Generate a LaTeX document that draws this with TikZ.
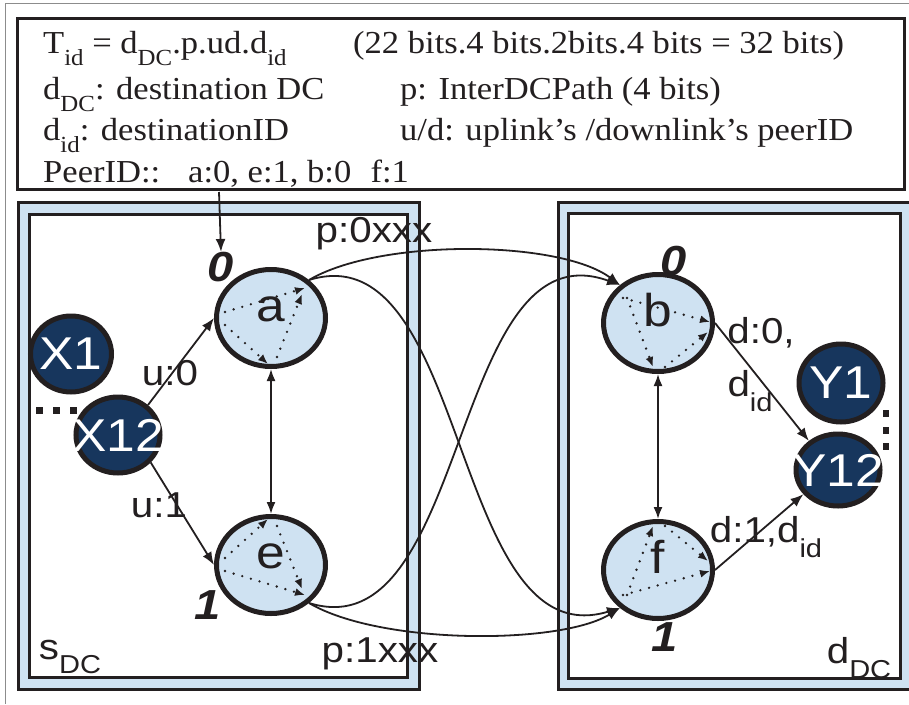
\documentclass[tikz,border=0pt]{standalone}
\usepackage{fontspec}
\usepackage{graphicx}
\usetikzlibrary{arrows.meta,shapes.geometric,calc}
\newfontfamily\hdrfont{Liberation Serif}[FakeStretch=1.08]
\newfontfamily\lblfont{Liberation Sans}[FakeStretch=1.12]
\definecolor{ink}{RGB}{35,31,32}
\definecolor{pale}{RGB}{207,226,242}
\definecolor{navy}{RGB}{23,54,93}
\definecolor{frame}{RGB}{140,140,140}
\newcommand{\lo}[1]{\raisebox{-0.4em}{\scalebox{0.72}{#1}}}
\newcommand{\fs}[1]{\fontsize{#1}{#1}\selectfont}

\begin{document}
\begin{tikzpicture}[x=1pt,y=-1pt,
  hdr/.style={font=\hdrfont\fs{32},text=ink,anchor=base west,inner sep=0pt},
  box/.style={draw=ink,line width=3pt,inner sep=0pt},
  peer/.style={ellipse,draw=ink,line width=5pt,fill=pale,minimum width=109pt,
               minimum height=97pt,inner sep=0pt,text height=0.72em,text depth=0pt,
               font=\lblfont\fs{46},text=ink},
  host/.style={ellipse,draw=ink,line width=5pt,fill=navy,inner sep=0pt,
               font=\lblfont\fs{46},text=white},
  lbl/.style={font=\lblfont\fs{36},text=ink,inner sep=0pt},
  idx/.style={font=\lblfont\bfseries\itshape\fs{42},text=ink,inner sep=0pt},
  arr/.style={-{Latex[length=13pt,width=10pt]},ink,line width=1.8pt},
  darr/.style={{Latex[length=12pt,width=9pt]}-{Latex[length=12pt,width=9pt]},ink,line width=1.8pt},
  dotarr/.style={-{Latex[length=10pt,width=8pt]},ink,line width=2.6pt,line cap=round,
                 dash pattern=on 0pt off 9pt},
]
\fill[white] (0,0) rectangle (909,704);
\useasboundingbox (0,0) rectangle (909,704);
\draw[frame,line width=1pt] (909,3) -- (5,3) -- (5,704);

% header with the id layout
\node[box,minimum width=887pt,minimum height=171pt] (hbox) at (461,104) {};
\node[hdr] (t1) at (43,53) {T\lo{id} = d\lo{DC}.p.ud.d\lo{id}};
\node[hdr] (t2) at (353,53) {(22 bits.4 bits.2bits.4 bits = 32 bits)};
\node[hdr] (t3) at (43,99) {d\lo{DC}: destination DC};
\node[hdr] (t4) at (400,99) {p: InterDCPath (4 bits)};
\node[hdr] (t5) at (43,140) {d\lo{id}: destinationID};
\node[hdr] (t6) at (400,140) {u/d: uplink’s /downlink’s peerID};
\node[hdr] (t7) at (43,182) {PeerID::};
\node[hdr] (t8) at (188,182) {a:0, e:1, b:0\hspace{0.6em}f:1};

% the two data centres
\node[box,fill=pale,minimum width=401pt,minimum height=487pt] (srcout) at (219,446) {};
\node[box,fill=white,minimum width=378pt,minimum height=463pt] (srcin) at (218.5,446) {};
\node[box,fill=pale,minimum width=356pt,minimum height=487pt] (dstout) at (736,446) {};
\node[box,fill=white,minimum width=332pt,minimum height=465pt] (dstin) at (734.5,446) {};

\foreach \i in {0,1,2} \fill[ink] ({36+\i*17},407) rectangle ++(7,7);
\foreach \i in {0,1,2} \fill[ink] (883,{410+\i*16.5}) rectangle ++(6,7);

\node[host,minimum width=81pt,minimum height=76pt] (x1) at (71,354) {\makebox[0pt]{X1}};
\node[host,minimum width=84pt,minimum height=76pt] (x12) at (118,435) {\makebox[0pt]{X12}};
\node[host,minimum width=84pt,minimum height=78pt] (y1) at (841,383) {\makebox[0pt]{Y1}};
\node[host,minimum width=84pt,minimum height=72pt] (y12) at (838,470) {\makebox[0pt]{Y12}};

\node[peer] (a) at (271,318) {a};
\node[peer] (e) at (271,565) {e};
\node[peer] (b) at (658,323) {b};
\node[peer] (f) at (658,570) {f};

% links
\coordinate (tap) at (219,192);
\node[idx] (za) at (221,267) {0};
\node[idx] (oe) at (208,605) {1};
\node[idx] (zb) at (674,261) {0};
\node[idx] (of) at (665,637) {1};
\draw[arr] (tap) -- (za.north);
\draw[arr] (x12.45) -- (a.west);
\draw[arr] (x12.-40) -- (e.west);
\draw[darr] (a.south) -- (e.north);
\draw[darr] (b.south) -- (f.north);
\draw[arr] (b.east) -- (y12.135);
\draw[arr] (f.east) -- (y12.215);

\draw[arr] (a.45) .. controls (380,238) and (560,240) .. (b.135);
\draw[arr] (a.45) .. controls (470,230) and (450,660) .. (f.225);
\draw[arr] (e.-45) .. controls (470,653) and (450,223) .. (b.135);
\draw[arr] (e.-45) .. controls (380,645) and (560,645) .. (f.225);

% forwarding inside the peers
\foreach \n/\s in {a/1,e/-1} {
  \draw[dotarr] ($(\n)+(-46,{-6*(\s)})$) -- ($(\n)+(34,{-30*(\s)})$);
  \draw[dotarr] ($(\n)+(-46,{7*(\s)})$) -- ($(\n)+(-3,{46*(\s)})$);
  \draw[dotarr] ($(\n)+(6,{39*(\s)})$) -- ($(\n)+(31,{-24*(\s)})$);
}
\foreach \n/\s in {b/1,f/-1} {
  \draw[dotarr] ($(\n)+(-35,{-25*(\s)})$) -- ($(\n)+(52,{-1*(\s)})$);
  \draw[dotarr] ($(\n)+(-31,{-25*(\s)})$) -- ($(\n)+(-5,{44*(\s)})$);
  \draw[dotarr] ($(\n)+(7,{44*(\s)})$) -- ($(\n)+(50,{9*(\s)})$);
}

\node[lbl] (p0) at (374,234) {p:0xxx};
\node[lbl] (p1) at (380,654) {p:1xxx};
\node[lbl] (u0) at (170,373) {u:0};
\node[lbl] (u1) at (159,505) {u:1};
\node[lbl] (sdc) at (70,657) {s\lo{DC}};
\node[lbl] (ddc) at (859,658) {d\lo{DC}};
\node[lbl] (d0) at (761,333) {d:0,};
\node[lbl] (did) at (750,391) {d\lo{id}};
\node[lbl] (d1) at (766,537) {d:1,d\lo{id}};
\end{tikzpicture}
\end{document}
